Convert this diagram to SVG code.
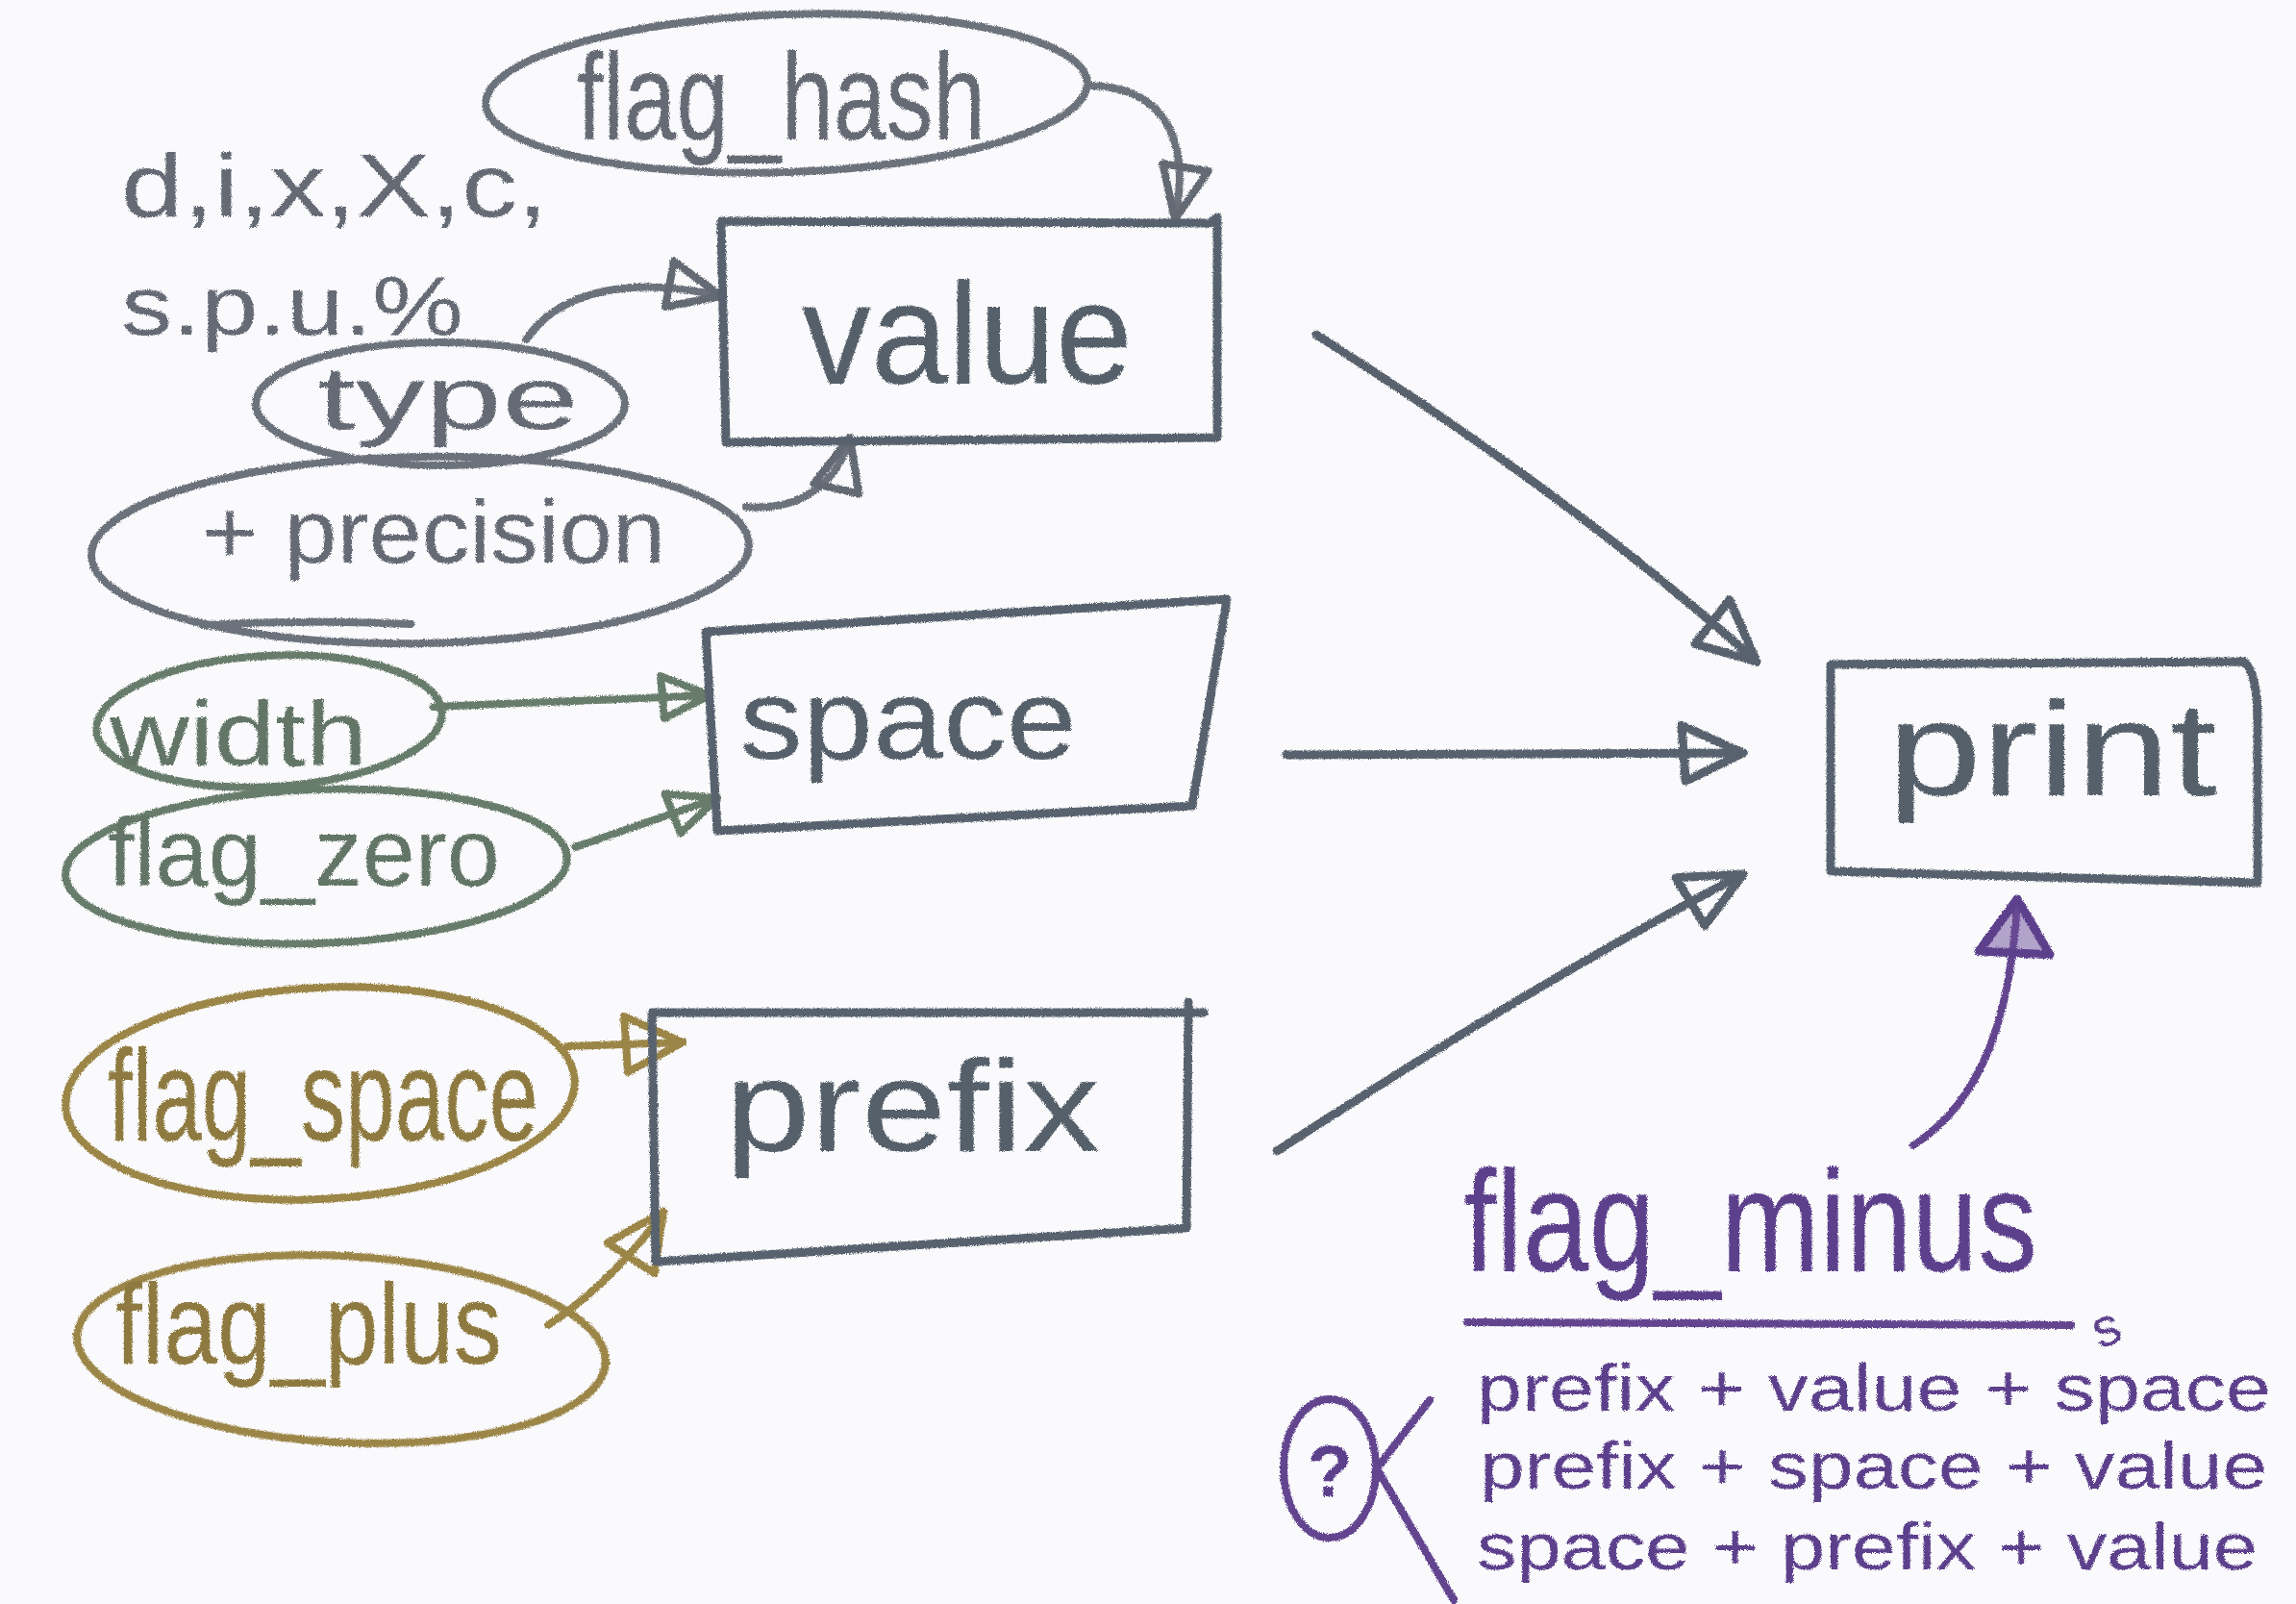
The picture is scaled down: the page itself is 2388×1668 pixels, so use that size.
<svg xmlns="http://www.w3.org/2000/svg" width="2388" height="1668" viewBox="0 0 2388 1668">
<defs>
<style>
.t{font-family:"Liberation Sans","Noto Sans",sans-serif;}
.sl{fill:none;stroke:#58626e;stroke-width:9;stroke-linecap:round;stroke-linejoin:round;}
.lg{fill:none;stroke:#6c727b;stroke-width:8;stroke-linecap:round;}
.gr{fill:none;stroke:#687c6c;stroke-width:8;stroke-linecap:round;}
.go{fill:none;stroke:#9b8547;stroke-width:8;stroke-linecap:round;}
.pu{fill:none;stroke:#64448f;stroke-width:8;stroke-linecap:round;stroke-linejoin:round;}
.tsl{fill:#56606b;}
.tlg{fill:#656b74;}
.tgr{fill:#627566;}
.tgo{fill:#8e7a3f;}
.tpu{fill:#5d3f8c;}
</style>
<filter id="pencil" x="-2%" y="-2%" width="104%" height="104%">
<feTurbulence type="fractalNoise" baseFrequency="0.9" numOctaves="2" seed="4" result="n"/>
<feDisplacementMap in="SourceGraphic" in2="n" scale="4" xChannelSelector="R" yChannelSelector="G"/>
</filter>
<marker id="ah-sl" viewBox="0 0 80 70" refX="74" refY="35" markerWidth="80" markerHeight="70" markerUnits="userSpaceOnUse" orient="auto">
<path d="M10,6 L74,35 L14,64 Z" fill="none" stroke="#58626e" stroke-width="9" stroke-linejoin="round"/>
</marker>
<marker id="ah-lg" viewBox="0 0 70 60" refX="64" refY="30" markerWidth="70" markerHeight="60" markerUnits="userSpaceOnUse" orient="auto">
<path d="M8,6 L64,30 L10,54 Z" fill="none" stroke="#646a73" stroke-width="8" stroke-linejoin="round"/>
</marker>
<marker id="ah-gr" viewBox="0 0 64 56" refX="58" refY="28" markerWidth="64" markerHeight="56" markerUnits="userSpaceOnUse" orient="auto">
<path d="M8,6 L58,28 L10,50 Z" fill="none" stroke="#687c6c" stroke-width="8" stroke-linejoin="round"/>
</marker>
<marker id="ah-go" viewBox="0 0 74 70" refX="68" refY="35" markerWidth="74" markerHeight="70" markerUnits="userSpaceOnUse" orient="auto">
<path d="M8,6 L68,35 L10,64 Z" fill="none" stroke="#9b8547" stroke-width="8" stroke-linejoin="round"/>
</marker>
<marker id="ah-pu" viewBox="0 0 70 90" refX="64" refY="45" markerWidth="70" markerHeight="90" markerUnits="userSpaceOnUse" orient="auto">
<path d="M8,8 L64,45 L8,82 Z" fill="#6a4a98" fill-opacity="0.5" stroke="#5d3f8c" stroke-width="9" stroke-linejoin="round"/>
</marker>
</defs>
<rect width="2388" height="1668" fill="#fafafc"/>
<g filter="url(#pencil)">

<g id="connectors">
<path class="lg" d="M1136,89 C1215,92 1238,150 1222,228" marker-end="url(#ah-lg)"/>
<path class="lg" d="M547,353 C585,298 665,288 750,308" marker-end="url(#ah-lg)"/>
<path class="lg" d="M776,527 C835,532 872,500 884,455" marker-end="url(#ah-lg)"/>
<path class="gr" d="M451,735 L738,723" marker-end="url(#ah-gr)"/>
<path class="gr" d="M598,881 L746,830" marker-end="url(#ah-gr)"/>
<path class="go" d="M590,1088 L710,1084" marker-end="url(#ah-go)"/>
<path class="go" d="M570,1378 C620,1345 662,1300 690,1260" marker-end="url(#ah-go)"/>
<path class="sl" d="M1369,348 Q1640,520 1827,688" marker-end="url(#ah-sl)"/>
<path class="sl" d="M1338,785 L1813,783" marker-end="url(#ah-sl)"/>
<path class="sl" d="M1328,1197 Q1600,1020 1813,909" marker-end="url(#ah-sl)"/>
<path class="pu" d="M1990,1191 C2062,1145 2092,1055 2098,935" marker-end="url(#ah-pu)"/>
</g>

<g id="types-note">
<text class="t tlg" x="126" y="225" font-size="92" textLength="444" lengthAdjust="spacingAndGlyphs">d,i,x,X,c,</text>
<text class="t tlg" x="126" y="348" font-size="88" textLength="356" lengthAdjust="spacingAndGlyphs">s.p.u.%</text>
</g>

<g id="flag_hash">
<ellipse class="lg" cx="818" cy="97" rx="313" ry="82" transform="rotate(-2 818 97)"/>
<text class="t tlg" x="600" y="145" font-size="128" textLength="425" lengthAdjust="spacingAndGlyphs">flag_hash</text>
</g>

<g id="type">
<ellipse class="lg" cx="458" cy="420" rx="192" ry="64"/>
<text class="t tlg" x="330" y="446" font-size="92" textLength="272" lengthAdjust="spacingAndGlyphs">type</text>
</g>

<g id="precision">
<ellipse class="lg" cx="437" cy="572" rx="342" ry="97" transform="rotate(-1 437 572)"/>
<path class="lg" d="M211,650 Q320,644 427,649"/>
<text class="t tlg" x="210" y="585" font-size="92" textLength="482" lengthAdjust="spacingAndGlyphs">+ precision</text>
</g>

<g id="value">
<path class="sl" d="M750,230 L1258,232 L1266,226 L1266,455 L755,460 Z"/>
<text class="t tsl" x="834" y="399" font-size="150" textLength="344" lengthAdjust="spacingAndGlyphs">value</text>
</g>

<g id="width">
<ellipse class="gr" cx="280" cy="750" rx="180" ry="68" transform="rotate(-3 280 750)"/>
<text class="t tgr" x="114" y="796" font-size="94" textLength="268" lengthAdjust="spacingAndGlyphs">width</text>
</g>

<g id="flag_zero">
<ellipse class="gr" cx="329" cy="901" rx="261" ry="80" transform="rotate(-2 329 901)"/>
<text class="t tgr" x="112" y="921" font-size="100" textLength="408" lengthAdjust="spacingAndGlyphs">flag_zero</text>
</g>

<g id="space">
<path class="sl" d="M734,657 L1276,623 L1240,838 L746,864 Z"/>
<text class="t tsl" x="769" y="789" font-size="118" textLength="351" lengthAdjust="spacingAndGlyphs">space</text>
</g>

<g id="flag_space">
<ellipse class="go" cx="333" cy="1137" rx="265" ry="110" transform="rotate(-3 333 1137)"/>
<text class="t tgo" x="112" y="1186" font-size="136" textLength="448" lengthAdjust="spacingAndGlyphs">flag_space</text>
</g>

<g id="flag_plus">
<ellipse class="go" cx="355" cy="1403" rx="275" ry="97" transform="rotate(3 355 1403)"/>
<text class="t tgo" x="120" y="1418" font-size="118" textLength="402" lengthAdjust="spacingAndGlyphs">flag_plus</text>
</g>

<g id="prefix">
<path class="sl" d="M678,1053 L1252,1053 M1236,1042 L1234,1277 L682,1312 L678,1053"/>
<text class="t tsl" x="754" y="1197" font-size="135" textLength="390" lengthAdjust="spacingAndGlyphs">prefix</text>
</g>

<g id="print">
<path class="sl" d="M1904,691 L2334,688 Q2348,700 2348,750 L2348,918 L1904,906 Z"/>
<text class="t tsl" x="1963" y="827" font-size="140" textLength="343" lengthAdjust="spacingAndGlyphs">print</text>
</g>

<g id="flag_minus">
<text class="t tpu" x="1522" y="1322" font-size="150" textLength="597" lengthAdjust="spacingAndGlyphs">flag_minus</text>
<path class="pu" d="M1526,1375 L2154,1378" stroke-width="10"/>
<text class="t tpu" x="2178" y="1398" font-size="56" transform="rotate(-20 2195 1385)">s</text>
<text class="t tpu" x="1536" y="1467" font-size="68" textLength="826" lengthAdjust="spacingAndGlyphs">prefix + value + space</text>
<text class="t tpu" x="1539" y="1548" font-size="68" textLength="819" lengthAdjust="spacingAndGlyphs">prefix + space + value</text>
<text class="t tpu" x="1536" y="1632" font-size="68" textLength="812" lengthAdjust="spacingAndGlyphs">space + prefix + value</text>
<ellipse class="pu" cx="1383" cy="1527" rx="48" ry="72" stroke-width="10"/>
<text class="t tpu" x="1360" y="1556" font-size="76" font-weight="bold">?</text>
<path class="pu" d="M1487,1456 L1432,1527 L1512,1664" stroke-width="9"/>
</g>

</g>
</svg>
